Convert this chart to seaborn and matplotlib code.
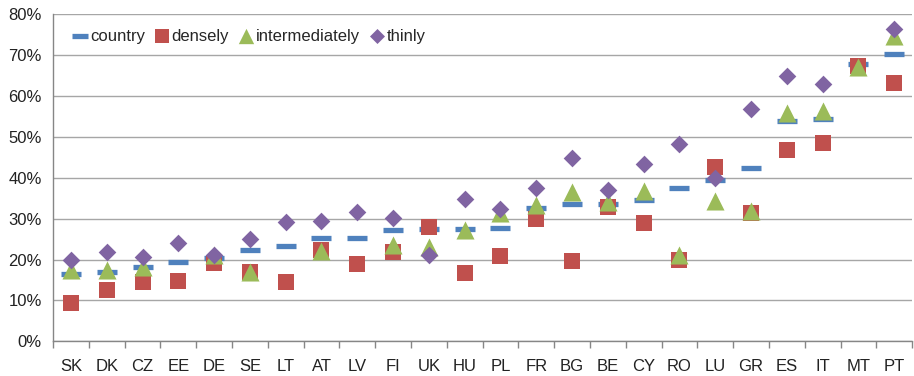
import matplotlib
matplotlib.use("Agg")
import matplotlib.pyplot as plt
import seaborn as sns
import numpy as np
from matplotlib.ticker import FuncFormatter, FixedLocator

countries = ["SK", "DK", "CZ", "EE", "DE", "SE", "LT", "AT", "LV", "FI", "UK", "HU",
             "PL", "FR", "BG", "BE", "CY", "RO", "LU", "GR", "ES", "IT", "MT", "PT"]
country = [16.5, 17.0, 18.1, 19.5, 20.4, 22.3, 23.4, 25.3, 25.3, 27.2, 27.4, 27.4,
           27.6, 32.5, 33.5, 33.5, 34.5, 37.4, 39.4, 42.3, 53.9, 54.4, 67.7, 70.2]
densely = [9.5, 12.5, 14.4, 14.8, 19.1, 17.0, 14.4, 22.3, 18.9, 21.8, 28.0, 16.6,
           20.9, 29.9, 19.6, 32.8, 29.0, 19.9, 42.7, 31.3, 46.8, 48.4, 67.3, 63.2]
intermediately = [17.5, 17.5, 18.2, np.nan, 21.1, 17.0, np.nan, 22.2, np.nan, 23.5, 23.1, 27.2,
                  31.3, 33.3, 36.6, 34.1, 36.8, 21.1, 34.4, 31.9, 55.7, 56.4, 67.1, 74.5]
thinly = [19.9, 21.9, 20.7, 24.1, 21.1, 25.0, 29.2, 29.5, 31.5, 30.1, 21.1, 34.7,
          32.3, 37.4, 44.9, 37.0, 43.3, 48.2, 39.9, 56.7, 64.9, 62.8, np.nan, 76.4]

sns.set_theme(style="white")
plt.rcParams['font.family'] = ['Liberation Sans', 'DejaVu Sans']

fig, ax = plt.subplots(figsize=(9.14, 3.76), dpi=100)
fig.subplots_adjust(left=0.058, right=0.998, top=0.963, bottom=0.092)

x = np.arange(len(countries))
sns.scatterplot(x=x, y=country, marker="_", s=14**2, linewidth=3.8, color="#4F81BD",
                label="country", ax=ax, zorder=3)
sns.scatterplot(x=x, y=densely, marker="s", s=11.5**2, linewidth=0, color="#C0504D",
                label="densely", ax=ax, zorder=4)
sns.scatterplot(x=x, y=intermediately, marker="^", s=13**2, linewidth=0, color="#9BBB59",
                label="intermediately", ax=ax, zorder=5)
sns.scatterplot(x=x, y=thinly, marker="D", s=9**2, linewidth=0, color="#8064A2",
                label="thinly", ax=ax, zorder=6)

ax.set_xlim(-0.5, len(countries) - 0.5)
ax.set_ylim(0, 80)
ax.set_yticks(np.arange(0, 81, 10))
ax.yaxis.set_major_formatter(FuncFormatter(lambda v, p: f"{v:.0f}%"))
ax.set_xticks(x)
ax.set_xticklabels(countries)
ax.xaxis.set_minor_locator(FixedLocator(np.arange(-0.5, len(countries), 1)))
ax.tick_params(axis="x", which="major", length=0, pad=13, labelsize=12, colors="#222222")
ax.tick_params(axis="x", which="minor", length=5, width=1, color="#868686", direction="out")
ax.tick_params(axis="y", length=5, width=1, direction="out", labelsize=12, pad=3,
               colors="#868686", labelcolor="#222222")
ax.xaxis.set_tick_params(which="minor", bottom=True)

ax.grid(axis="y", color="#A6A6A6", linewidth=1)
ax.set_axisbelow(True)
for s in ["top", "right"]:
    ax.spines[s].set_visible(False)
for s in ["left", "bottom"]:
    ax.spines[s].set_color("#868686")
    ax.spines[s].set_linewidth(1)

leg = ax.legend(loc="upper left", bbox_to_anchor=(0.01, 0.985), ncol=4, frameon=False,
                fontsize=12, handletextpad=0.1, columnspacing=0.5, handlelength=1.0,
                borderaxespad=0.2, markerscale=0.85)

fig.savefig("out.png", dpi=100)
